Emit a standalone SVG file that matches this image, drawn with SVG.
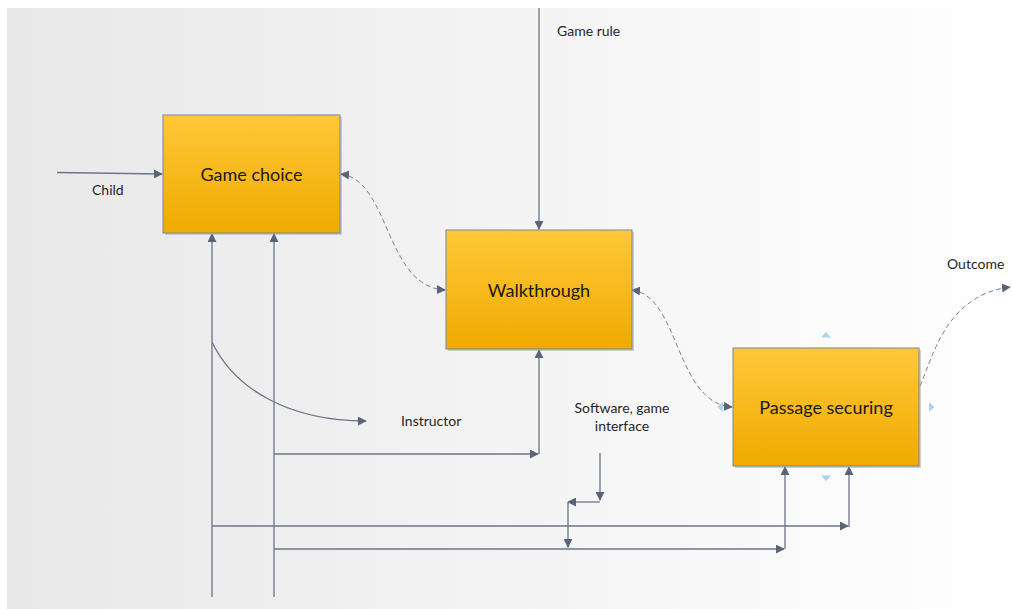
<svg xmlns="http://www.w3.org/2000/svg" width="1012" height="609" viewBox="0 0 1012 609">
<defs>
<linearGradient id="bg" x1="0" y1="0" x2="1" y2="0">
<stop offset="0" stop-color="#e8e8e8"/>
<stop offset="1" stop-color="#ffffff"/>
</linearGradient>
<linearGradient id="box" x1="0" y1="0" x2="0" y2="1">
<stop offset="0" stop-color="#ffc839"/>
<stop offset="1" stop-color="#f0aa00"/>
</linearGradient>
<marker id="ah" viewBox="0 0 10 10" refX="9" refY="5" markerWidth="9" markerHeight="9" markerUnits="userSpaceOnUse" orient="auto-start-reverse">
<path d="M0,0 L10,5 L0,10 z" fill="#5a6478"/>
</marker>
</defs>
<style>
.bx{fill:url(#box);stroke:#7a8599;stroke-width:1}
.sh{fill:#9a9a9a;opacity:0.45}
.bt{font-family:Lato,"Liberation Sans",sans-serif;font-size:18px;fill:#1a1a1a;text-anchor:middle;dominant-baseline:central}
.lb{font-family:Lato,"Liberation Sans",sans-serif;font-size:14px;fill:#262626}
.ln{fill:none;stroke:#6b7589;stroke-width:1.3}
.ar{marker-end:url(#ah)}
.ds{fill:none;stroke:#7a8296;stroke-width:1;stroke-dasharray:5,3}
.ind{fill:#a9d6ec}
</style>
<rect x="7" y="8" width="1005" height="601" fill="url(#bg)"/>
<g id="connectors">
<path class="ln ar" d="M57,172.5 L162,174"/>
<path class="ln ar" d="M539,8 V229"/>
<path class="ds ar" d="M341,174 C390,180 385,287 445,290" style="marker-start:url(#ah)"/>
<path class="ds ar" d="M632,290 C680,296 675,403 732,407" style="marker-start:url(#ah)"/>
<path class="ds ar" d="M920,386 C932,360 945,295 1010,287"/>
<path class="ln ar" d="M212,597 V234"/>
<path class="ln ar" d="M274,597 V234"/>
<path class="ln ar" d="M212,342 C235,390 290,421 366,421"/>
<path class="ln ar" d="M274,454 H538"/>
<path class="ln ar" d="M539,454 V350"/>
<path class="ln ar" d="M600,453 V500"/>
<path class="ln ar" d="M600,502 H568"/>
<path class="ln ar" d="M568,502 V547"/>
<path class="ln ar" d="M212,526 H848"/>
<path class="ln ar" d="M849,527 V467"/>
<path class="ln ar" d="M274,549 H784"/>
<path class="ln ar" d="M785,549 V467"/>
</g>
<g id="game-choice">
<rect class="sh" x="165" y="117" width="177" height="118"/>
<rect class="bx" x="163" y="115" width="177" height="118"/>
<text class="bt" x="251.5" y="174">Game choice</text>
</g>
<g id="walkthrough">
<rect class="sh" x="448" y="232" width="186" height="119"/>
<rect class="bx" x="446" y="230" width="186" height="119"/>
<text class="bt" x="539" y="289.5">Walkthrough</text>
</g>
<g id="passage-securing">
<rect class="sh" x="735" y="350" width="186" height="118"/>
<rect class="bx" x="733" y="348" width="186" height="118"/>
<text class="bt" x="826" y="407">Passage securing</text>
<path class="ind" d="M821,337.5 L826,332 L831,337.5 z"/>
<path class="ind" d="M821,475.5 L826,481 L831,475.5 z"/>
<path class="ind" d="M929,402 L934.5,407 L929,412 z"/>
<path class="ind" d="M723,402 L717.5,407 L723,412 z"/>
</g>
<g id="labels">
<text class="lb" x="557" y="36">Game rule</text>
<text class="lb" x="92" y="195">Child</text>
<text class="lb" x="401" y="426">Instructor</text>
<text class="lb" x="622" y="413" text-anchor="middle">Software, game</text>
<text class="lb" x="622" y="431" text-anchor="middle">interface</text>
<text class="lb" x="947" y="269">Outcome</text>
</g>
</svg>
